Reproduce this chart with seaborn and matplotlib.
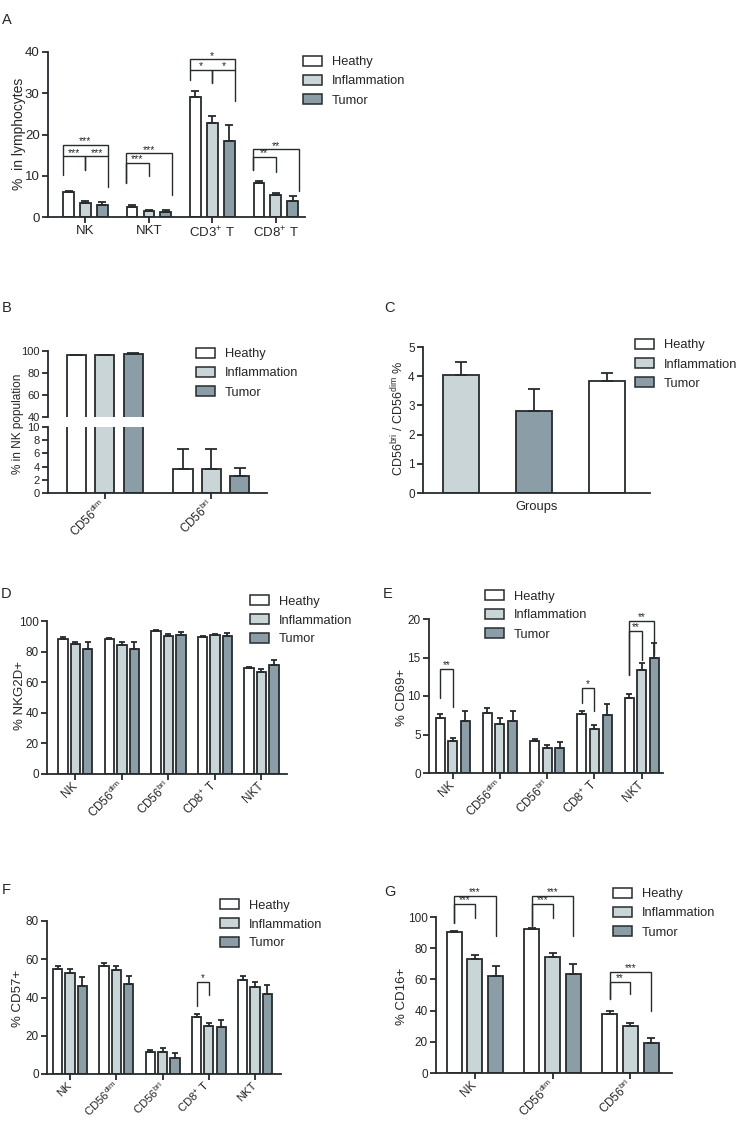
import numpy as np
import pandas as pd
import matplotlib
matplotlib.use("Agg")
import matplotlib.pyplot as plt
from matplotlib.patches import Rectangle
import seaborn as sns

# ---- data ----
GROUPS = ["Heathy", "Inflammation", "Tumor"]
PALETTE = {"Heathy": "#ffffff", "Inflammation": "#c9d5d7", "Tumor": "#8b9ea8"}
EDGE = "#262b2d"

DIM = "CD56$^{\\mathrm{dim}}$"
BRI = "CD56$^{\\mathrm{bri}}$"
CD8 = "CD8$^{+}$ T"
CD3 = "CD3$^{+}$ T"

# A: % in lymphocytes
A_CELLS = ["NK", "NKT", CD3, CD8]
A_HEATHY = [6.0, 2.5, 29.0, 8.2]
A_INFLAM = [3.5, 1.5, 22.8, 5.3]
A_TUMOR = [3.0, 1.3, 18.5, 4.0]
A_HEATHY_SEM = [0.4, 0.3, 1.5, 0.5]
A_INFLAM_SEM = [0.4, 0.3, 1.8, 0.5]
A_TUMOR_SEM = [0.6, 0.4, 3.9, 1.0]

# B: % in NK population
B_CELLS = [DIM, BRI]
B_HEATHY = [96.5, 3.6]
B_INFLAM = [96.5, 3.7]
B_TUMOR = [97.3, 2.6]
B_HEATHY_SEM = [0.3, 3.0]
B_INFLAM_SEM = [0.3, 3.0]
B_TUMOR_SEM = [0.5, 1.2]

# C: CD56bri / CD56dim ratio
C_ORDER = ["Inflammation", "Tumor", "Heathy"]
C_RATIO = [4.05, 2.82, 3.85]
C_SEM = [0.43, 0.75, 0.27]

CELLS5 = ["NK", DIM, BRI, CD8, "NKT"]

# D: % NKG2D+
D_HEATHY = [88.0, 88.0, 93.5, 89.5, 69.0]
D_INFLAM = [85.0, 84.5, 90.0, 91.0, 66.5]
D_TUMOR = [82.0, 81.5, 91.0, 90.0, 71.0]
D_HEATHY_SEM = [1.5, 1.0, 0.5, 0.5, 1.0]
D_INFLAM_SEM = [1.5, 1.5, 1.5, 0.5, 2.0]
D_TUMOR_SEM = [4.5, 5.0, 2.0, 2.0, 3.5]

# E: % CD69+
E_HEATHY = [7.1, 7.8, 4.1, 7.7, 9.7]
E_INFLAM = [4.2, 6.4, 3.2, 5.7, 13.4]
E_TUMOR = [6.8, 6.8, 3.2, 7.5, 15.0]
E_HEATHY_SEM = [0.5, 0.6, 0.3, 0.4, 0.6]
E_INFLAM_SEM = [0.4, 0.8, 0.4, 0.5, 0.9]
E_TUMOR_SEM = [1.2, 1.2, 0.8, 1.5, 1.9]

# F: % CD57+
F_HEATHY = [55.0, 56.5, 11.5, 30.0, 49.0]
F_INFLAM = [53.0, 54.5, 11.5, 25.0, 45.5]
F_TUMOR = [46.0, 47.0, 8.5, 24.5, 42.0]
F_HEATHY_SEM = [1.5, 1.5, 1.0, 1.5, 2.0]
F_INFLAM_SEM = [2.0, 2.0, 2.0, 1.5, 2.5]
F_TUMOR_SEM = [4.5, 4.5, 2.5, 3.5, 4.5]

# G: % CD16+
G_CELLS = ["NK", DIM, BRI]
G_HEATHY = [90.5, 92.5, 38.0]
G_INFLAM = [73.0, 74.5, 30.0]
G_TUMOR = [62.5, 63.5, 19.5]
G_HEATHY_SEM = [0.5, 0.5, 1.5]
G_INFLAM_SEM = [2.5, 2.5, 2.0]
G_TUMOR_SEM = [6.0, 6.5, 3.0]

# significance brackets: (group, hue a, hue b, top, left foot, right foot, stars)
A_SIG = [(0, 0, 2, 17.4, 10.3, 7.3, "***"), (0, 0, 1, 14.7, 14.7, 11.5, "***"),
         (0, 1, 2, 14.7, 11.5, 14.7, "***"),
         (1, 0, 2, 15.4, 8.2, 5.4, "***"), (1, 0, 1, 13.1, 8.2, 9.9, "***"),
         (2, 0, 2, 38.2, 33.1, 28.1, "*"), (2, 0, 1, 35.7, 35.7, 32.5, "*"),
         (2, 1, 2, 35.7, 32.5, 35.7, "*"),
         (3, 0, 2, 16.4, 11.3, 6.3, "**"), (3, 0, 1, 14.5, 11.3, 10.9, "**")]
E_SIG = [(0, 0, 1, 13.5, 9.7, 8.6, "**"), (3, 0, 1, 11.1, 9.1, 8.0, "*"),
         (4, 0, 1, 18.5, 12.7, 14.7, "**"), (4, 0, 2, 19.8, 12.7, 15.3, "**")]
F_SIG = [(3, 0, 1, 48.1, 35.4, 41.1, "*")]
G_SIG = [(0, 0, 1, 108.6, 96.1, 99.4, "***"), (0, 0, 2, 113.7, 96.1, 88.0, "***"),
         (1, 0, 1, 108.6, 94.0, 99.4, "***"), (1, 0, 2, 113.7, 94.0, 88.0, "***"),
         (2, 0, 1, 58.6, 47.2, 50.4, "**"), (2, 0, 2, 65.0, 47.2, 39.9, "***")]

# ---- style ----
sns.set_style("ticks")
plt.rcParams["font.family"] = ["Liberation Sans", "DejaVu Sans"]
plt.rcParams["mathtext.fontset"] = "custom"
plt.rcParams["mathtext.rm"] = "Liberation Sans"
plt.rcParams["mathtext.it"] = "Liberation Sans:italic"
plt.rcParams["mathtext.bf"] = "Liberation Sans:bold"

W, H = 738, 1121
fig = plt.figure(figsize=(W / 100, H / 100), dpi=100)
LW = 1.3
LEG_FS = 9.3


def px_axes(x0, y0, x1, y1):
    return fig.add_axes([x0 / W, 1 - y1 / H, (x1 - x0) / W, (y1 - y0) / H])


def style(ax, fs):
    sns.despine(ax=ax)
    for s in ("left", "bottom"):
        ax.spines[s].set_linewidth(LW)
        ax.spines[s].set_color(EDGE)
    ax.tick_params(width=LW, length=4, color=EDGE, labelsize=fs, pad=2)
    ax.set_xlabel("")
    ax.set_ylabel("")


def grouped(ax, cats, vals, sems, gap, cap):
    df = pd.DataFrame({"cell": cats * 3,
                       "group": np.repeat(GROUPS, len(cats)),
                       "value": vals[0] + vals[1] + vals[2]})
    sns.barplot(data=df, x="cell", y="value", hue="group", order=cats,
                hue_order=GROUPS, palette=PALETTE, saturation=1,
                edgecolor=EDGE, linewidth=LW, gap=gap, errorbar=None,
                legend=False, ax=ax)
    for cont, ss in zip(list(ax.containers)[:3], sems):
        for bar, s in zip(cont, ss):
            x = bar.get_x() + bar.get_width() / 2
            ax.errorbar(x, bar.get_height(), yerr=[[0], [s]], fmt="none",
                        ecolor=EDGE, elinewidth=LW, capsize=cap, capthick=LW)


def brackets(ax, sigs, spread=1.0, fs=7):
    step = 0.8 / 3 * spread
    for g, a, b, top, ya, yb, txt in sigs:
        x1 = g + (a - 1) * step
        x2 = g + (b - 1) * step
        ax.plot([x1, x1, x2, x2], [ya, top, top, yb], color=EDGE, lw=1.0,
                clip_on=False, solid_joinstyle="miter")
        ax.annotate(txt, ((x1 + x2) / 2, top), xytext=(0, 0.5),
                    textcoords="offset points", ha="center", va="baseline",
                    fontsize=fs, annotation_clip=False)


def rotate_labels(ax, fs):
    for lab in ax.get_xticklabels():
        lab.set_rotation(45)
        lab.set_ha("right")
        lab.set_va("center")
        lab.set_rotation_mode("anchor")
        lab.set_fontsize(fs)
    ax.tick_params(axis="x", pad=3)


def legend(x, y, fs=LEG_FS):
    for k, g in enumerate(GROUPS):
        top = y + 19 * k
        fig.add_artist(Rectangle((x / W, 1 - (top + 10) / H), 19 / W, 10 / H,
                                 transform=fig.transFigure, facecolor=PALETTE[g],
                                 edgecolor=EDGE, linewidth=1.1))
        fig.text((x + 29) / W, 1 - (top + 5) / H, g, fontsize=fs,
                 va="center_baseline", ha="left")


def ylabel(x, y, txt, fs):
    fig.text(x / W, 1 - y / H, txt, rotation=90, ha="center", va="center",
             fontsize=fs)


def letter(x, y, txt):
    fig.text(x / W, 1 - y / H, txt, fontsize=10.5, ha="left", va="top")


# ---- A ----
ax = px_axes(48, 52, 305, 217)
grouped(ax, A_CELLS, [A_HEATHY, A_INFLAM, A_TUMOR],
        [A_HEATHY_SEM, A_INFLAM_SEM, A_TUMOR_SEM], gap=0.37, cap=3)
style(ax, 9.5)
ax.set_ylim(0, 40)
ax.set_yticks([0, 10, 20, 30, 40])
ax.set_xlim(-0.59, 3.46)
brackets(ax, A_SIG, spread=1.35, fs=7.5)
ylabel(19, 134, "%  in lymphocytes", 10)
legend(303, 56)
letter(2, 13, "A")

# ---- B (broken axis) ----
ax_top = px_axes(48, 351, 267, 417)
ax_bot = px_axes(48, 427, 267, 493)
for a in (ax_top, ax_bot):
    grouped(a, B_CELLS, [B_HEATHY, B_INFLAM, B_TUMOR],
            [B_HEATHY_SEM, B_INFLAM_SEM, B_TUMOR_SEM], gap=0.33, cap=4.5)
    style(a, 8)
    a.set_xlim(-0.53, 1.52)
ax_top.set_ylim(40, 100)
ax_top.set_yticks([40, 60, 80, 100])
ax_top.spines["bottom"].set_visible(False)
ax_top.tick_params(axis="x", bottom=False, labelbottom=False)
ax_bot.set_ylim(0, 10)
ax_bot.set_yticks([0, 2, 4, 6, 8, 10])
rotate_labels(ax_bot, 8.5)
ylabel(18, 424, "% in NK population", 8.5)
legend(196, 348)
letter(2, 301, "B")

# ---- C ----
ax = px_axes(423, 347, 650, 493)
sns.barplot(x=C_ORDER, y=C_RATIO, hue=C_ORDER, order=C_ORDER,
            palette=PALETTE, saturation=1, edgecolor=EDGE, linewidth=LW,
            width=0.5, errorbar=None, legend=False, ax=ax)
for bar, s in zip([p for c in ax.containers for p in c], C_SEM):
    ax.errorbar(bar.get_x() + bar.get_width() / 2, bar.get_height(),
                yerr=[[0], [s]], fmt="none", ecolor=EDGE, elinewidth=LW,
                capsize=4.5, capthick=LW)
style(ax, 8.5)
ax.set_ylim(0, 5)
ax.set_yticks(range(6))
ax.set_xlim(-0.52, 2.59)
ax.set_xticks([])
ax.set_xlabel("Groups", fontsize=9.3, labelpad=6)
ylabel(398, 418, "CD56$^{\\mathrm{bri}}$ / CD56$^{\\mathrm{dim}}$ %", 9)
legend(635, 339)
letter(384, 301, "C")

# ---- D ----
ax = px_axes(47, 621, 287, 774)
grouped(ax, CELLS5, [D_HEATHY, D_INFLAM, D_TUMOR],
        [D_HEATHY_SEM, D_INFLAM_SEM, D_TUMOR_SEM], gap=0.24, cap=2.5)
style(ax, 8.5)
ax.set_ylim(0, 100)
ax.set_yticks(range(0, 101, 20))
ax.set_xlim(-0.61, 4.55)
rotate_labels(ax, 8.5)
ylabel(20, 695, "% NKG2D+", 9.5)
legend(250, 595)
letter(1, 587, "D")

# ---- E ----
ax = px_axes(429, 619, 663, 773)
grouped(ax, CELLS5, [E_HEATHY, E_INFLAM, E_TUMOR],
        [E_HEATHY_SEM, E_INFLAM_SEM, E_TUMOR_SEM], gap=0.29, cap=2.5)
style(ax, 8.5)
ax.set_ylim(0, 20)
ax.set_yticks([0, 5, 10, 15, 20])
ax.set_xlim(-0.5, 4.45)
brackets(ax, E_SIG, fs=7)
rotate_labels(ax, 8.5)
ylabel(402, 697, "% CD69+", 9.5)
legend(485, 590)
letter(383, 587, "E")

# ---- F ----
ax = px_axes(47, 921, 281, 1074)
grouped(ax, CELLS5, [F_HEATHY, F_INFLAM, F_TUMOR],
        [F_HEATHY_SEM, F_INFLAM_SEM, F_TUMOR_SEM], gap=0.25, cap=2.5)
style(ax, 8.5)
ax.set_ylim(0, 80)
ax.set_yticks(range(0, 81, 20))
ax.set_xlim(-0.5, 4.56)
brackets(ax, F_SIG, fs=7)
rotate_labels(ax, 8.2)
ylabel(18, 998, "% CD57+", 9.5)
legend(220, 899)
letter(2, 883, "F")

# ---- G ----
ax = px_axes(436, 917, 672, 1073)
grouped(ax, G_CELLS, [G_HEATHY, G_INFLAM, G_TUMOR],
        [G_HEATHY_SEM, G_INFLAM_SEM, G_TUMOR_SEM], gap=0.28, cap=3)
style(ax, 8.5)
ax.set_ylim(0, 100)
ax.set_yticks(range(0, 101, 20))
ax.set_xlim(-0.5, 2.535)
brackets(ax, G_SIG, fs=7)
rotate_labels(ax, 8.5)
ylabel(402, 996, "% CD16+", 9.5)
legend(613, 888)
letter(384, 885, "G")

fig.savefig("out.png", dpi=100, facecolor="white")
